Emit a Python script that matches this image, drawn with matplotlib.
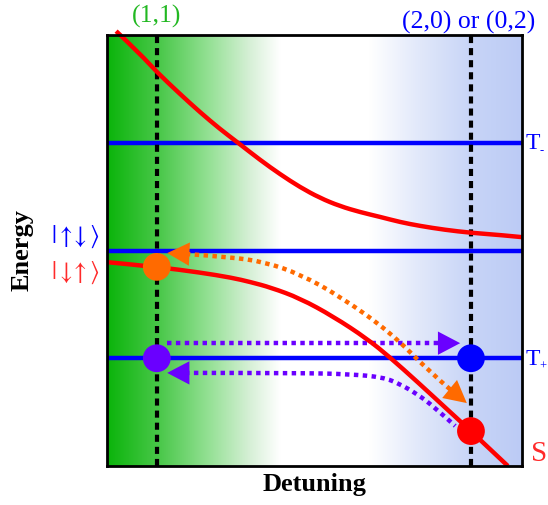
import numpy as np
import matplotlib.pyplot as plt
from matplotlib.path import Path
from matplotlib.patches import PathPatch

plt.rcParams["font.family"] = "Liberation Serif"
plt.rcParams["mathtext.fontset"] = "stix"

# triplet / spin-product levels (flat in detuning)
level_t_minus = 0.75
level_ud = 0.50
level_t_plus = 0.25

# detuning of the two operating points
eps_11 = 0.120
eps_02 = 0.877

# hybridised singlet branches
upper_x = [0.022, 0.080, 0.120, 0.176, 0.224, 0.272, 0.313, 0.369, 0.417, 0.465,
           0.513, 0.561, 0.610, 0.658, 0.706, 0.754, 0.814, 0.877, 0.947, 1.000]
upper_y = [1.009, 0.956, 0.914, 0.863, 0.821, 0.782, 0.752, 0.710, 0.677, 0.647,
           0.622, 0.603, 0.589, 0.578, 0.566, 0.557, 0.548, 0.541, 0.536, 0.531]
lower_x = [0.000, 0.120, 0.224, 0.300, 0.345, 0.395, 0.465, 0.545, 0.627, 0.682,
           0.747, 0.827, 0.877, 0.966]
lower_y = [0.473, 0.462, 0.449, 0.437, 0.427, 0.414, 0.389, 0.347, 0.295, 0.252,
           0.196, 0.125, 0.081, 0.000]

# state markers
dot_x = [eps_11, eps_11, eps_02, eps_02]
dot_y = [0.462, level_t_plus, level_t_plus, 0.081]
dot_colors = ["#ff6a00", "#6a00ff", "#0000ff", "#ff0000"]

# pulse paths
orange_x = [0.190, 0.296, 0.381, 0.465, 0.561, 0.682, 0.778, 0.829]
orange_y = [0.492, 0.485, 0.473, 0.445, 0.394, 0.311, 0.218, 0.176]
orange_tip_left = (0.145, 0.494)
orange_tip_right = (0.867, 0.146)

purple_top_x = [0.145, 0.810]
purple_top_y = [0.285, 0.285]
purple_top_tip = (0.851, 0.285)

purple_bot_x = [0.188, 0.465, 0.586, 0.665, 0.706, 0.747, 0.786, 0.839]
purple_bot_y = [0.216, 0.216, 0.213, 0.206, 0.190, 0.167, 0.139, 0.093]
purple_bot_tip = (0.145, 0.216)

# background shading: (1,1) green on the left, (0,2) blue on the right
bg_pos = [0.0, 0.128, 0.248, 0.345, 0.417, 0.634, 0.754, 0.875, 1.0]
bg_rgb = np.array([[10, 180, 10], [75, 200, 75], [150, 225, 150], [215, 240, 215],
                   [255, 255, 255], [255, 255, 255], [225, 232, 250],
                   [200, 213, 247], [188, 203, 245]]) / 255.0

ORANGE = "#ff6a00"
PURPLE = "#6a00ff"


def smooth(x, y):
    """Quadratic Bezier path through the midpoints of the given vertices."""
    pts = np.column_stack([x, y])
    verts, codes = [pts[0]], [Path.MOVETO]
    if len(pts) == 2:
        return Path([pts[0], pts[1]], [Path.MOVETO, Path.LINETO])
    for i in range(1, len(pts) - 1):
        end = pts[i + 1] if i == len(pts) - 2 else (pts[i] + pts[i + 1]) / 2
        verts += [pts[i], end]
        codes += [Path.CURVE3, Path.CURVE3]
    return Path(verts, codes)


fig = plt.figure(figsize=(5.48, 5.06), dpi=100)
ax = fig.add_axes([107 / 548, 39 / 506, 415 / 548, 431 / 506])

xs = np.linspace(0, 1, 600)
grad = np.stack([np.interp(xs, bg_pos, bg_rgb[:, i]) for i in range(3)], axis=-1)
ax.imshow(grad[np.newaxis, :, :], extent=[0, 1, 0, 1], aspect="auto",
          interpolation="bilinear", zorder=0)

for lev in (level_t_minus, level_ud, level_t_plus):
    ax.axhline(lev, color="#0000ff", lw=3.2, zorder=2)

for eps in (eps_11, eps_02):
    ax.axvline(eps, color="black", lw=3, linestyle=(0, (1.7, 1.2)), zorder=3)

dotted = (0, (1, 1))


def curve(x, y, color, z, ls="-", clip=True):
    p = PathPatch(smooth(x, y), fill=False, edgecolor=color, lw=3.2,
                  linestyle=ls, zorder=z, clip_on=clip)
    ax.add_patch(p)


curve(purple_top_x, purple_top_y, PURPLE, 4, dotted)
curve(purple_bot_x, purple_bot_y, PURPLE, 4, dotted)
curve(upper_x, upper_y, "red", 5, clip=False)
curve(lower_x, lower_y, "red", 5)
curve(orange_x, orange_y, ORANGE, 6, dotted)


def head(tip, tail, color, z):
    ax.annotate("", xy=tip, xytext=tail,
                arrowprops=dict(arrowstyle="-|>,head_length=0.8,head_width=0.42",
                                mutation_scale=20, color=color, lw=0,
                                shrinkA=0, shrinkB=0), zorder=z)


head(orange_tip_left, (orange_x[0], orange_y[0]), ORANGE, 6)
head(orange_tip_right, (orange_x[-1], orange_y[-1]), ORANGE, 6)
head(purple_top_tip, (purple_top_x[-1], purple_top_y[-1]), PURPLE, 4)
head(purple_bot_tip, (purple_bot_x[0], purple_bot_y[0]), PURPLE, 4)

ax.scatter(dot_x, dot_y, s=400, c=dot_colors, zorder=7, linewidths=0)

ax.set_xlim(0, 1)
ax.set_ylim(0, 1)
ax.set_xticks([])
ax.set_yticks([])
for sp in ax.spines.values():
    sp.set_linewidth(2)
    sp.set_zorder(8)

ax.text(eps_11, 1.046, "(1,1)", color="#22b822", fontsize=18.5,
        ha="center", va="center")
ax.text(0.872, 1.032, "(2,0) or (0,2)", color="#0000ff", fontsize=18.5,
        ha="center", va="center")

# triplet labels: capital T with a small sub-index
for lev, sub in ((level_t_minus, "-"), (level_t_plus, "+")):
    ax.text(1.008, lev, "T", color="#0000ff", fontsize=17,
            ha="left", va="center")
    ax.text(1.042, lev - 0.018, sub, color="#0000ff", fontsize=9,
            ha="left", va="center")

ax.text(1.021, 0.030, "S", color="#ff2a2a", fontsize=21, ha="left", va="center")
ax.text(-0.017, 0.534, r"$|{\uparrow}\!\!{\downarrow}\rangle$", color="#0000ff",
        fontsize=18, ha="right", va="center")
ax.text(-0.017, 0.450, r"$|{\downarrow}\!\!{\uparrow}\rangle$", color="#ff2a2a",
        fontsize=18, ha="right", va="center")
ax.text(-0.205, 0.503, "Energy", fontsize=19, fontweight="bold",
        rotation=90, ha="center", va="center")
ax.text(0.499, -0.04, "Detuning", fontsize=19, fontweight="bold",
        ha="center", va="center")

fig.savefig("out.png", dpi=100)
